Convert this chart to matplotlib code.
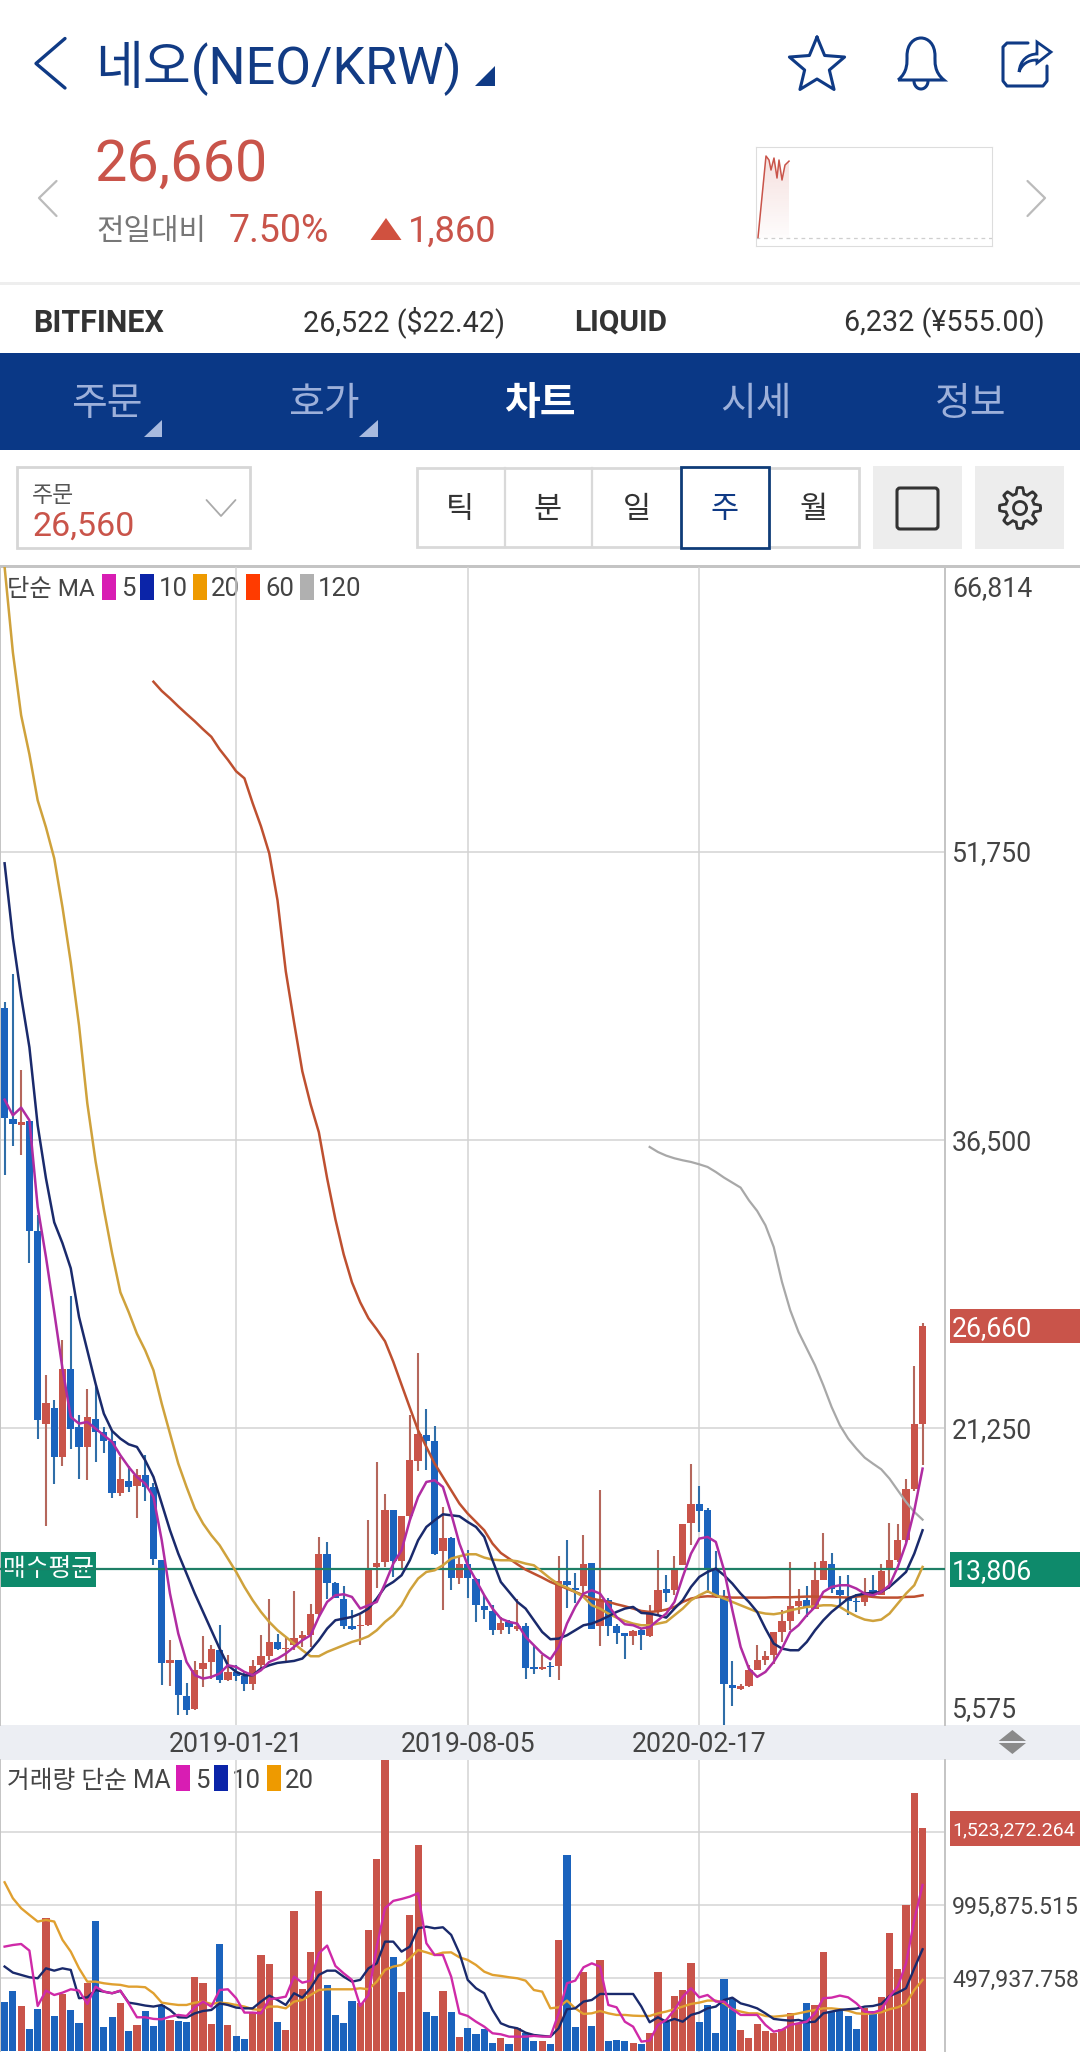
import numpy as np
import matplotlib
matplotlib.use("Agg")
import matplotlib.pyplot as plt
from matplotlib.patches import Rectangle, Polygon, FancyBboxPatch, PathPatch
from matplotlib.path import Path

plt.rcParams["font.family"] = ["Roboto", "Noto Sans CJK KR", "DejaVu Sans"]

W, H = 1080, 2052
RED = "#C9544A"
BLUE = "#1B63BD"
NAVY = "#0F3A85"

# ---- weekly candles (KRW), week 0 is the first visible week ----
body_top = [43484, 37633, 37474, 37506, 31671, 22608, 22343, 24388, 24388, 21320,
            21849, 21726, 21038, 20562, 18588, 18482, 18764, 18782, 18147, 14304,
            9000, 9015, 7110, 8450, 8839, 9561, 9544, 8362, 8362, 8133,
            8680, 9191, 9949, 9949, 9632, 10161, 10337, 11448, 14621, 14621,
            13070, 12241, 10778, 10866, 13810, 14127, 16948, 16948, 16613, 19593,
            20968, 20915, 20598, 15432, 15432, 14092, 14057, 13281, 11871, 11589,
            10972, 11007, 10778, 10778, 8608, 8608, 8662, 13175, 13175, 12787,
            14056, 14127, 12240, 12187, 10777, 10407, 10513, 10566, 11535, 12716,
            12769, 13862, 16208, 17230, 17230, 16913, 13775, 12294, 7692, 7604,
            8450, 8979, 9191, 10478, 11042, 11835, 12118, 12153, 13211, 14233,
            14092, 12717, 12329, 12100, 12594, 12682, 13687, 14304, 15327, 18024,
            21462, 26660]
body_bottom = [37686, 37369, 37316, 31687, 21673, 21497, 19734, 19734, 21215, 20263,
               20263, 21056, 20562, 17847, 17847, 18165, 18182, 18165, 14339, 8839,
               8839, 7146, 6370, 6388, 8521, 8909, 7922, 7922, 8133, 7710,
               7710, 8715, 9191, 9597, 9561, 9773, 10178, 10302, 11448, 13087,
               12294, 10795, 10654, 10778, 10866, 13916, 14180, 14233, 14233, 16613,
               19522, 20580, 14621, 14762, 13334, 13334, 13334, 11924, 11624, 10601,
               10601, 10742, 10654, 8574, 8503, 8503, 8609, 8662, 12963, 12716,
               12893, 10654, 10777, 10795, 10407, 10266, 10266, 10301, 10266, 11535,
               12558, 12716, 14004, 16243, 16860, 13828, 12329, 7710, 7534, 7481,
               7604, 8450, 8979, 9244, 10478, 11042, 11835, 11800, 11712, 13211,
               12770, 12417, 12100, 12047, 12065, 12506, 12417, 13775, 14269, 15327,
               18059, 21497]
wick_high = [43801, 45267, 40188, 37506, 32518, 24053, 22766, 25940, 28233, 21938,
             23348, 23560, 21320, 21091, 19734, 19258, 19117, 19822, 18359, 14304,
             10037, 9015, 7781, 8926, 10266, 9773, 10866, 9244, 8715, 8415,
             8979, 10337, 12206, 10390, 10178, 12646, 10531, 11941, 15503, 15238,
             13122, 12929, 11659, 11360, 16419, 19469, 17794, 16948, 16613, 21938,
             25234, 22290, 21356, 17089, 15503, 14445, 14833, 13320, 12417, 11889,
             11271, 11130, 12241, 10954, 9719, 9243, 8891, 14479, 15361, 13598,
             15590, 14127, 17970, 12290, 10880, 10407, 10566, 10655, 11923, 14832,
             13474, 14479, 16208, 19346, 18182, 17054, 14762, 12682, 8927, 7745,
             8715, 9808, 9473, 10478, 11624, 14180, 12752, 12893, 14180, 15732,
             14656, 13422, 13475, 12506, 13352, 13475, 14057, 16243, 16208, 18553,
             24547, 26821]
wick_low = [34634, 36184, 35708, 29994, 20703, 16084, 18323, 19258, 20157, 18588,
            18535, 19469, 19963, 17583, 17671, 17883, 16525, 17407, 14004, 7657,
            7622, 6106, 6106, 6370, 7569, 8000, 7798, 7886, 7886, 7358,
            7428, 8486, 8979, 9509, 8891, 9509, 9685, 9685, 11271, 12241,
            12294, 10619, 10566, 9808, 10795, 12823, 13916, 13387, 13828, 16473,
            18993, 19029, 14533, 11659, 12682, 13034, 12276, 11007, 11183, 10337,
            10390, 10390, 10513, 7974, 8238, 8450, 8097, 7921, 11729, 12029,
            12505, 10654, 9737, 10266, 9825, 9067, 9807, 9543, 10213, 11359,
            12064, 12417, 14004, 15062, 15767, 12541, 12294, 5575, 6564, 7393,
            7569, 8450, 8715, 8803, 9949, 10566, 11448, 11271, 11712, 13211,
            12541, 11888, 11360, 11536, 11835, 12294, 12417, 12770, 14180, 15256,
            17918, 19328]
up_weeks = [2, 5, 7, 10, 14, 16, 20, 23, 24, 25, 27, 30, 31, 32, 34, 35, 36, 37, 38,
            43, 44, 45, 46, 48, 49, 50, 53, 55, 60, 62, 65, 67, 70, 72, 76, 78, 79,
            81, 82, 83, 89, 90, 91, 92, 93, 94, 95, 96, 98, 99, 104, 106, 107, 108,
            109, 110, 111]

ma5 = [38638, 37808, 38215, 37543, 32957, 30312, 27400, 24406, 21849, 21497,
       21585, 21232, 20880, 20527, 19822, 19205, 18676, 18323, 17618, 15326,
       12505, 10390, 8891, 8186, 8010, 8098, 8274, 8715, 8627, 8362,
       8186, 8450, 8891, 9068, 9332, 9685, 10037, 10302, 11271, 12065,
       12417, 12470, 12329, 11712, 11888, 12065, 13034, 14092, 14797, 16384,
       17618, 18412, 18500, 18147, 16737, 15150, 14004, 13211, 12417, 11712,
       11183, 11007, 10918, 10213, 9772, 9331, 9032, 9685, 10919, 11800,
       12505, 12682, 12505, 11888, 11271, 10884, 10831, 10654, 10742, 11095,
       11448, 12065, 13387, 14621, 15414, 15503, 15238, 13739, 11624, 9685,
       8539, 8098, 8362, 8891, 9597, 10478, 10831, 11360, 11800, 12594,
       12858, 12947, 12947, 12770, 12506, 12417, 12594, 12947, 13916, 15150,
       16913, 19117]
ma10 = [51139, 47171, 44103, 41405, 37279, 34475, 32147, 31037, 29714, 27138,
        25375, 23613, 22026, 21109, 20703, 20404, 20263, 19557, 18676, 17266,
        15855, 14621, 13563, 12505, 11536, 10566, 9597, 8715, 8362, 8186,
        8186, 8539, 8715, 8839, 8891, 8944, 9068, 9509, 10037, 10654,
        11095, 11183, 11271, 11448, 11712, 12241, 12858, 13122, 13475, 14269,
        15326, 16031, 16384, 16701, 16648, 16596, 16296, 16031, 15502, 14269,
        13122, 12594, 12065, 11712, 11094, 10477, 10090, 10125, 10301, 10565,
        10830, 10918, 11095, 11306, 11536, 11712, 11800, 11483, 11448, 11360,
        11236, 11712, 12153, 12858, 13387, 13651, 13828, 13475, 13034, 12506,
        12065, 11536, 10654, 9861, 9597, 9509, 9509, 9949, 10566, 11095,
        11536, 11888, 12241, 12417, 12506, 12541, 12594, 12858, 13246, 13651,
        14621, 15855]
ma20 = [66814, 62300, 58968, 56905, 54471, 53043, 51403, 48811, 45901, 42569,
        38443, 35374, 32835, 30508, 28444, 27400, 26257, 25375, 24318, 22555,
        20968, 19381, 18147, 17001, 16208, 15591, 15062, 14357, 13651, 12858,
        12153, 11536, 11007, 10566, 10214, 9861, 9509, 9191, 9191, 9420,
        9597, 9773, 9949, 10073, 10249, 10566, 11007, 11360, 11888, 12682,
        13299, 13651, 13739, 14004, 14357, 14480, 14586, 14586, 14410, 14304,
        14269, 14269, 14216, 14092, 14003, 13651, 13298, 12998, 12822, 12593,
        12328, 11888, 11711, 11447, 11235, 11059, 10918, 10830, 10831, 10918,
        11007, 11360, 11712, 12153, 12417, 12629, 12417, 12241, 12065, 11888,
        11712, 11536, 11448, 11413, 11483, 11624, 11712, 11800, 11835, 11888,
        11888, 11800, 11536, 11306, 11130, 11060, 11130, 11448, 11976, 12506,
        12947, 13916]
ma60_start = 18
ma60 = [60745, 60258, 59867, 59444, 59042, 58650, 58227, 57830, 57169, 56614,
        56005, 55635, 54313, 53096, 51668, 49181, 45425, 42727, 40135, 38390,
        36908, 34475, 32306, 30455, 28973, 27915, 27069, 26487, 25852, 24768,
        23551, 22340, 21144, 20263, 19381, 18676, 17971, 17266, 16737, 16296,
        15854, 15150, 14656, 14356, 14056, 13774, 13562, 13351, 13122, 12946,
        12769, 12593, 12417, 12240, 12152, 12064, 11941, 11835, 11711, 11588,
        11535, 11570, 11659, 11799, 12065, 12241, 12329, 12364, 12350, 12329,
        12294, 12294, 12294, 12294, 12294, 12312, 12312, 12312, 12329, 12347,
        12347, 12329, 12312, 12312, 12294, 12347, 12382, 12329, 12294, 12294,
        12294, 12329, 12340, 12417]
ma120_start = 78
ma120 = [36134, 35867, 35674, 35533, 35427, 35339, 35216, 35075, 34810, 34510,
         34246, 33981, 33311, 32747, 31989, 30843, 28991, 27492, 26346, 25464,
         24583, 23525, 22378, 21409, 20703, 20174, 19698, 19381, 19081, 18588,
         17970, 17353, 16825, 16418]

# volume, thousands
volumes = [339, 414, 309, 150, 291, 907, 241, 389, 282, 196,
           464, 887, 164, 232, 332, 139, 177, 275, 173, 316,
           214, 209, 200, 507, 464, 189, 732, 177, 107, 82,
           259, 657, 596, 202, 146, 960, 428, 680, 1094, 450,
           248, 196, 346, 327, 828, 1312, 2040, 641, 402, 930,
           1408, 268, 241, 412, 271, 100, 161, 118, 150, 55,
           93, 50, 157, 123, 73, 73, 50, 760, 1342, 164,
           541, 175, 625, 70, 75, 68, 57, 48, 127, 539,
           202, 377, 416, 605, 202, 316, 123, 493, 355, 146,
           93, 184, 141, 123, 152, 259, 191, 327, 316, 680,
           271, 277, 241, 150, 293, 275, 373, 810, 562, 996,
           1765, 1523]
vol_ma5 = [714, 725, 732, 687, 309, 414, 384, 400, 423, 414,
           323, 441, 407, 396, 414, 327, 232, 232, 221, 218,
           236, 248, 241, 300, 339, 305, 418, 423, 362, 264,
           264, 259, 355, 362, 373, 509, 468, 482, 669, 721,
           582, 532, 487, 309, 384, 714, 976, 1026, 1039, 1055,
           1078, 737, 657, 657, 509, 259, 241, 202, 168, 123,
           116, 100, 100, 100, 105, 100, 100, 259, 464, 482,
           573, 600, 578, 316, 300, 202, 168, 66, 73, 180,
           214, 282, 373, 430, 368, 384, 339, 339, 287, 248,
           248, 248, 180, 134, 146, 180, 191, 202, 259, 362,
           366, 380, 368, 327, 271, 264, 282, 373, 441, 600,
           896, 1135]
vol_ma10 = [578, 537, 521, 505, 498, 566, 550, 566, 555, 362,
            368, 418, 407, 396, 412, 332, 323, 312, 305, 316,
            282, 232, 230, 259, 275, 282, 327, 316, 298, 293,
            293, 339, 380, 350, 316, 396, 366, 430, 521, 550,
            550, 509, 475, 487, 566, 600, 748, 748, 680, 714,
            839, 850, 839, 846, 794, 669, 487, 430, 396, 282,
            191, 168, 157, 127, 111, 105, 100, 157, 287, 293,
            339, 350, 391, 391, 391, 391, 391, 305, 198, 232,
            202, 221, 202, 248, 264, 293, 305, 350, 366, 327,
            312, 293, 259, 221, 214, 209, 214, 198, 202, 259,
            271, 282, 287, 291, 305, 309, 323, 377, 400, 430,
            566, 696]
vol_ma20 = [1153, 1044, 976, 930, 885, 896, 885, 760, 680, 566,
            475, 475, 464, 457, 453, 441, 441, 437, 396, 332,
            323, 316, 316, 332, 339, 323, 332, 327, 316, 305,
            287, 282, 305, 305, 293, 339, 350, 384, 418, 423,
            423, 423, 423, 430, 423, 475, 555, 578, 589, 634,
            691, 675, 657, 673, 675, 641, 623, 589, 543, 521,
            514, 505, 498, 482, 418, 407, 293, 300, 346, 293,
            255, 259, 275, 259, 248, 248, 243, 241, 241, 259,
            271, 287, 305, 323, 332, 346, 346, 327, 287, 271,
            259, 259, 241, 236, 241, 248, 259, 271, 282, 293,
            293, 287, 277, 259, 255, 259, 266, 287, 300, 327,
            418, 487]

date_weeks = [28, 56, 84]
date_labels = ["2019-01-21", "2019-08-05", "2020-02-17"]
price_ticks = [51750, 36500, 21250]
price_labels = [(66814, "66,814"), (51750, "51,750"), (36500, "36,500"), (21250, "21,250"), (5575, "5,575")]
last_price = 26660
avg_price = 13806
vol_ticks = [497.938, 995.876, 1493.8]

spark_minutes = [2, 10, 13, 15, 18, 21, 23, 26, 29, 33]
spark_prices = [24812, 26784, 26687, 26445, 26735, 26251, 26687, 26203, 26566, 26660]
spark_prev = 24800

fig = plt.figure(figsize=(W / 100, H / 100), dpi=100, facecolor="white")


def px_axes(left, top, right, bottom, z):
    a = fig.add_axes([left / W, 1 - bottom / H, (right - left) / W, (bottom - top) / H], zorder=z)
    a.patch.set_alpha(0)
    return a


# ---- overlay in pixel coordinates for the app chrome ----
ui = px_axes(0, 0, W, H, 3)
ui.set_xlim(0, W)
ui.set_ylim(H, 0)
ui.axis("off")


def txt(x, y, s, size, color="#333333", ha="left", weight="normal"):
    # centre of the glyphs sits a little under the font's centre line
    ui.text(x, y + 2.5, s, fontsize=size, color=color, ha=ha, va="center", fontweight=weight)


def rect(x0, y0, x1, y1, **kw):
    ui.add_patch(Rectangle((x0, y0), x1 - x0, y1 - y0, **kw))


def line(xs, ys, color, lw, **kw):
    ui.plot(xs, ys, color=color, lw=lw, solid_capstyle="round", solid_joinstyle="round", **kw)


# header
line([65, 36, 65], [38.5, 63.5, 88], NAVY, 2.4)
txt(95, 66, "네오(NEO/KRW)", 37.5, "#123B84")
ui.add_patch(Polygon([(494.5, 66), (494.5, 86), (475, 86)], color=NAVY, lw=0))

ang = np.pi / 2 + np.arange(11) * np.pi / 5
rad = np.where(np.arange(11) % 2 == 0, 29, 13)
line(817 + rad * np.cos(ang), 66 - rad * np.sin(ang), NAVY, 2.2)

bell = Path([(898, 80), (908, 72), (907, 62), (907, 56), (907, 44), (914, 38), (921, 38),
             (928, 38), (935, 44), (935, 56), (935, 62), (934, 72), (944, 80), (898, 80)],
            [Path.MOVETO, Path.CURVE4, Path.CURVE4, Path.CURVE4, Path.CURVE4, Path.CURVE4, Path.CURVE4,
             Path.CURVE4, Path.CURVE4, Path.CURVE4, Path.CURVE4, Path.CURVE4, Path.CURVE4, Path.LINETO])
ui.add_patch(PathPatch(bell, fc="none", ec=NAVY, lw=2.2))
t = np.linspace(0, np.pi, 20)
line(921 + 7 * np.cos(t), 81 + 8 * np.sin(t), NAVY, 2.2)

line([1028, 1007, 1003, 1003, 1007, 1043, 1047, 1047], [43, 43, 47, 81, 86, 86, 81, 66], NAVY, 2.2)
arrow = Path([(1019, 72), (1020, 60), (1028, 54), (1037, 54), (1037, 42), (1051, 52), (1037, 63), (1037, 60),
              (1028, 60), (1022, 64), (1019, 72)],
             [Path.MOVETO, Path.CURVE4, Path.CURVE4, Path.CURVE4, Path.LINETO, Path.LINETO, Path.LINETO, Path.LINETO,
              Path.CURVE4, Path.CURVE4, Path.CURVE4])
ui.add_patch(PathPatch(arrow, fc="none", ec=NAVY, lw=2))

# price block
txt(94, 163, "26,660", 41.5, RED)
txt(96, 229, "전일대비", 21.5, "#777777")
txt(229, 229, "7.50%", 27, RED)
ui.add_patch(Polygon([(370.5, 240), (401.5, 240), (386, 218)], color="#D0513F", lw=0))
txt(408, 229, "1,860", 26, RED)
line([56.5, 39, 56.5], [181, 198, 216], "#BBBBBB", 1.6)
line([1027.5, 1045, 1027.5], [181, 198, 216], "#BBBBBB", 1.6)

# sparkline
sp = px_axes(756, 147, 992.5, 246, 3)
sp.set_xticks([])
sp.set_yticks([])
for s in sp.spines.values():
    s.set_color("#DDDDDD")
sp.axhline(spark_prev, color="#CFCFCF", lw=0.9, ls=(0, (3, 3)))
grad = np.zeros((64, 2, 4))
grad[..., :3] = matplotlib.colors.to_rgb(RED)
grad[..., 3] = np.linspace(0.20, 0.0, 64)[:, None]
im = sp.imshow(grad, extent=(0, 236.5, 24606, 27002), aspect="auto", origin="upper")
im.set_clip_path(Polygon(list(zip(spark_minutes, spark_prices)) + [(spark_minutes[-1], spark_prev), (spark_minutes[0], spark_prev)],
                         transform=sp.transData))
sp.plot(spark_minutes, spark_prices, color=RED, lw=1.1)
sp.set_xlim(0, 236.5)
sp.set_ylim(24606, 27002)

# exchange row
rect(0, 282, W, 285, color="#EEEEEE", lw=0)
txt(33, 320, "BITFINEX", 22, "#333333", weight="bold")
txt(505, 320, "26,522 ($22.42)", 20.6, "#333333", ha="right")
txt(574, 320, "LIQUID", 21.5, "#333333", weight="bold")
txt(1045, 320, "6,232 (¥555.00)", 20.6, "#333333", ha="right")

# nav bar
rect(0, 353, W, 450, color="#0A3886", lw=0)
for x, s in zip([107, 324, 755.5, 971], ["주문", "호가", "시세", "정보"]):
    ui.text(x, 405, s, fontsize=28, color="#9DB0DA", ha="center", va="center")
ui.text(540, 405, "차트", fontsize=28, color="white", ha="center", va="center", fontweight="bold")
for x in [162, 377.5]:
    ui.add_patch(Polygon([(x, 420), (x, 436.5), (x - 18.5, 436.5)], color="#A8BADF", lw=0))

# controls
rect(17, 467, 250, 548, fc="white", ec="#D6D6D6", lw=2)
txt(32, 493, "주문", 16.5, "#555555")
txt(32, 524, "26,560", 24.5, RED)
line([206.5, 221, 235.5], [500, 516, 500], "#AAAAAA", 1.3)
rect(417, 468, 859, 547, fc="white", ec="#D9D9D9", lw=2)
for x in [505, 592]:
    ui.plot([x, x], [468, 547], color="#D9D9D9", lw=1.6)
for x, s in zip([460, 548, 637, 814], ["틱", "분", "일", "월"]):
    ui.text(x, 510, s, fontsize=22, color="#333333", ha="center", va="center")
rect(681, 467, 769, 548, fc="white", ec="#0F3C78", lw=2)
ui.text(725, 510, "주", fontsize=22, color=NAVY, ha="center", va="center")
rect(873, 466, 962, 549, color="#EDEDED", lw=0)
ui.add_patch(FancyBboxPatch((897, 488), 41, 41, boxstyle="round,pad=0,rounding_size=3", fc="none", ec="#333333", lw=2.2))
rect(975, 466, 1064, 549, color="#EDEDED", lw=0)
a = np.linspace(0, 2 * np.pi, 97)
r = 17.5 + 3 * np.clip(2.2 * np.cos(8 * a), -1, 1)
line(1020 + r * np.cos(a), 508 + r * np.sin(a), "#333333", 2)
line(1020 + 6.5 * np.cos(a), 508 + 6.5 * np.sin(a), "#333333", 2)

# date band and its arrows
rect(0, 1725, W, 1760, color="#ECEEF3", lw=0)
ui.add_patch(Polygon([(998.7, 1741), (1026, 1741), (1012.4, 1730)], color="#8A8A8A", lw=0))
ui.add_patch(Polygon([(998.7, 1743), (1026, 1743), (1012.4, 1754)], color="#8A8A8A", lw=0))
rect(0, 565, W, 568, color="#C4C4C4", lw=0)

# side boxes for current price and buy average
rect(950, 1309, W, 1343, color=RED, lw=0)
rect(950, 1552, W, 1587, color="#0E8A6B", lw=0)
rect(0, 1552, 96, 1587, color="#0E8A6B", lw=0)
txt(3, 1567, "매수평균", 17.8, "white")
rect(950, 1811, W, 1846, color=RED, lw=0)


def legend(y, items, h):
    for x_sw, color, x_txt, s in items:
        rect(x_sw, y - h, x_sw + 13.5, y + h, color=color, lw=0)
        txt(x_txt, y, s, 18.5, "#444444")


txt(7, 587, "단순 MA", 17.5, "#444444")
legend(587, [(102, "#D81DB3", 121, "5"), (140, "#0B24A8", 159, "10"), (193, "#EE9A00", 211, "20"),
             (246, "#FF3B00", 265, "60"), (300, "#B0B0B0", 318, "120")], 13)
txt(7, 1778, "거래량 단순 MA", 17.8, "#444444")
legend(1778, [(176, "#D81DB3", 195, "5"), (214, "#0B24A8", 232, "10"), (267, "#EE9A00", 285, "20")], 13)

# ---- price panel ----
weeks = np.arange(len(body_top))
is_up = np.isin(weeks, up_weeks)
body_colors = np.where(is_up, RED, BLUE)
wick_colors = np.where(is_up, "#B5675C", "#2F6EA8")
PX_PER_WEEK = 8.27
X0 = 4.6
xlim = (-X0 / PX_PER_WEEK, (945.3 - X0) / PX_PER_WEEK)

ax = px_axes(0, 567, 945.3, 1724.6, 4)
ax.set_xlim(*xlim)
ax.set_ylim(5575, 66814)
ax.set_xticks([])
ax.set_yticks([])
for side, sp_ in ax.spines.items():
    sp_.set_visible(side in ("left", "right"))
    sp_.set_color("#C4C4C4")
    sp_.set_linewidth(1.4)
for v in price_ticks:
    ax.axhline(v, color="#D3D3D3", lw=1.1, zorder=1)
for w in date_weeks:
    ax.axvline(w, color="#D3D3D3", lw=1.1, zorder=1)

ax.vlines(weeks, wick_low, wick_high, colors=wick_colors, lw=1.5, zorder=2)
ax.bar(weeks, np.array(body_top) - np.array(body_bottom), bottom=body_bottom, width=0.88,
       color=body_colors, lw=0, zorder=3)
ax.axhline(avg_price, color="#1F7F66", lw=1.6, zorder=4)
line_kw = dict(solid_joinstyle="round", zorder=5)
ax.plot(ma120_start + np.arange(len(ma120)), ma120, color="#A8A8A8", lw=1.6, **line_kw)
ax.plot(ma60_start + np.arange(len(ma60)), ma60, color="#BE5030", lw=1.8, **line_kw)
ax.plot(weeks, ma20, color="#CFA23C", lw=1.8, **line_kw)
ax.plot(weeks, ma10, color="#1A2A6C", lw=1.8, **line_kw)
ax.plot(weeks, ma5, color="#B02CA2", lw=1.8, **line_kw)

yax = ax.get_yaxis_transform()
for v, s in price_labels:
    off = -15.5 if v == 66814 else (10.5 if v == 5575 else -1.5)
    ax.annotate(s, xy=(1, v), xycoords=yax, xytext=(5, off), textcoords="offset points",
                fontsize=19.2, color="#444444", va="center", annotation_clip=False)
for v, s, in [(last_price, "26,660"), (avg_price, "13,806")]:
    ax.annotate(s, xy=(1, v), xycoords=yax, xytext=(5, -1.5), textcoords="offset points",
                fontsize=19.2, color="white", va="center", annotation_clip=False)
xax = ax.get_xaxis_transform()
for w, s in zip(date_weeks, date_labels):
    ax.annotate(s, xy=(w, 0), xycoords=xax, xytext=(0, -14), textcoords="offset points",
                fontsize=19.2, color="#444444", ha="center", va="center", annotation_clip=False)

# ---- volume panel ----
vx = px_axes(0, 1760, 945.3, H, 4)
vx.set_xlim(*xlim)
vx.set_ylim(-4.8, 1987)
vx.set_xticks([])
vx.set_yticks([])
for side, sp_ in vx.spines.items():
    sp_.set_visible(side in ("left", "right"))
    sp_.set_color("#C4C4C4")
    sp_.set_linewidth(1.4)
for v in vol_ticks:
    vx.axhline(v, color="#D8D8D8", lw=1.2, zorder=1)
for w in date_weeks:
    vx.axvline(w, color="#D3D3D3", lw=1.1, zorder=1)
vx.bar(weeks, volumes, width=0.87, color=body_colors, lw=0, zorder=2)
vx.plot(weeks, vol_ma20, color="#E0A030", lw=1.7, **line_kw)
vx.plot(weeks, vol_ma10, color="#1A2A6C", lw=1.7, **line_kw)
vx.plot(weeks, vol_ma5, color="#CF2AA8", lw=1.7, **line_kw)

vax = vx.get_yaxis_transform()
for v, s, c, fs in [(497.938, "497,937.758", "#444444", 16.6), (995.876, "995,875.515", "#444444", 16.6),
                    (1523.272, "1,523,272.264", "white", 14)]:
    vx.annotate(s, xy=(1, v), xycoords=vax, xytext=(5, -1.5), textcoords="offset points",
                fontsize=fs, color=c, va="center", annotation_clip=False)

fig.savefig("out.png", dpi=100)
